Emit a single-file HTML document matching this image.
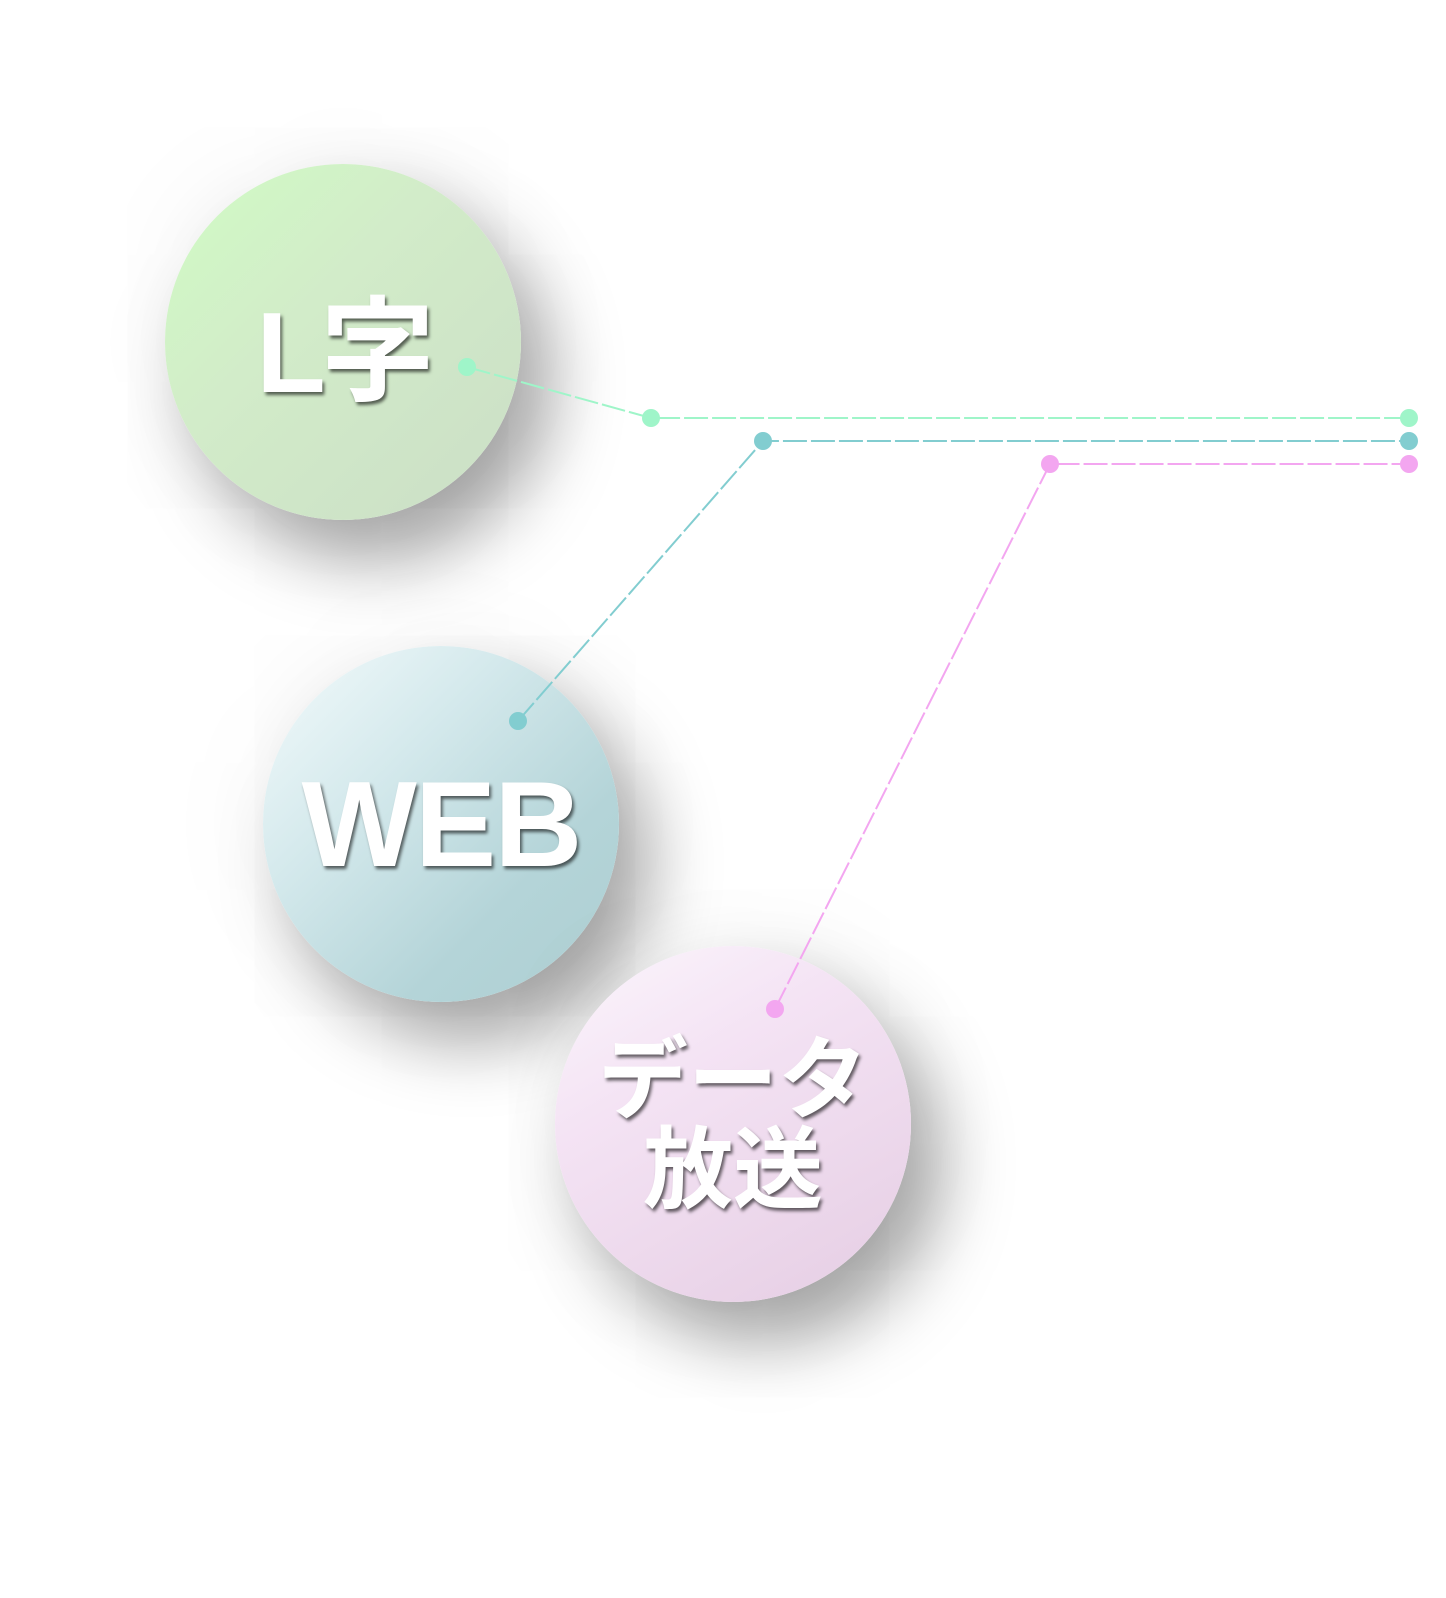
<!DOCTYPE html>
<html><head><meta charset="utf-8"><style>
html,body{margin:0;padding:0;background:#fff;width:1446px;height:1598px;overflow:hidden;position:relative}
.c{position:absolute;width:356px;height:356px;border-radius:50%;box-shadow:30px 40px 70px rgba(0,0,0,0.35),0 0 120px rgba(0,0,0,0.06);display:flex;align-items:center;justify-content:center;color:#fff;font-family:"Liberation Sans","Noto Sans CJK JP",sans-serif;font-weight:bold;text-shadow:2px 3px 3px rgba(0,0,0,0.6);text-align:center}
svg{position:absolute;left:0;top:0}
</style></head><body>
<div class="c" style="left:165px;top:164px;background:linear-gradient(135deg,#d0fcc4 0%,#d2ecc9 40%,#cbdec6 100%);font-size:114px;letter-spacing:-5px">L字</div>
<div class="c" style="left:263px;top:646px;background:linear-gradient(135deg,#f4fbfc 0%,#d4e9ec 35%,#b4d4d8 70%,#adcfd2 100%);font-size:122px;letter-spacing:-2px">WEB</div>
<div class="c" style="left:555px;top:946px;background:linear-gradient(150deg,#fbf6fc 0%,#f4e3f4 35%,#e5cde3 100%);font-size:90px;line-height:90px;padding-top:4px;box-sizing:border-box">データ<br>放送</div>
<svg width="1446" height="1598">
<g fill="none" stroke-width="2" stroke-dasharray="24 4">
<polyline points="467,367 651,418 1409,418" stroke="#9ff5c9"/>
<polyline points="518,721 763,441 1409,441" stroke="#82cdd0"/>
<polyline points="775,1009 1050,464 1409,464" stroke="#f3a6f0"/>
</g>
<g fill="#9ff5c9"><circle cx="467" cy="367" r="9"/><circle cx="651" cy="418" r="9"/><circle cx="1409" cy="418" r="9"/></g>
<g fill="#82cdd0"><circle cx="518" cy="721" r="9"/><circle cx="763" cy="441" r="9"/><circle cx="1409" cy="441" r="9"/></g>
<g fill="#f3a6f0"><circle cx="775" cy="1009" r="9"/><circle cx="1050" cy="464" r="9"/><circle cx="1409" cy="464" r="9"/></g>
</svg>
</body></html>
